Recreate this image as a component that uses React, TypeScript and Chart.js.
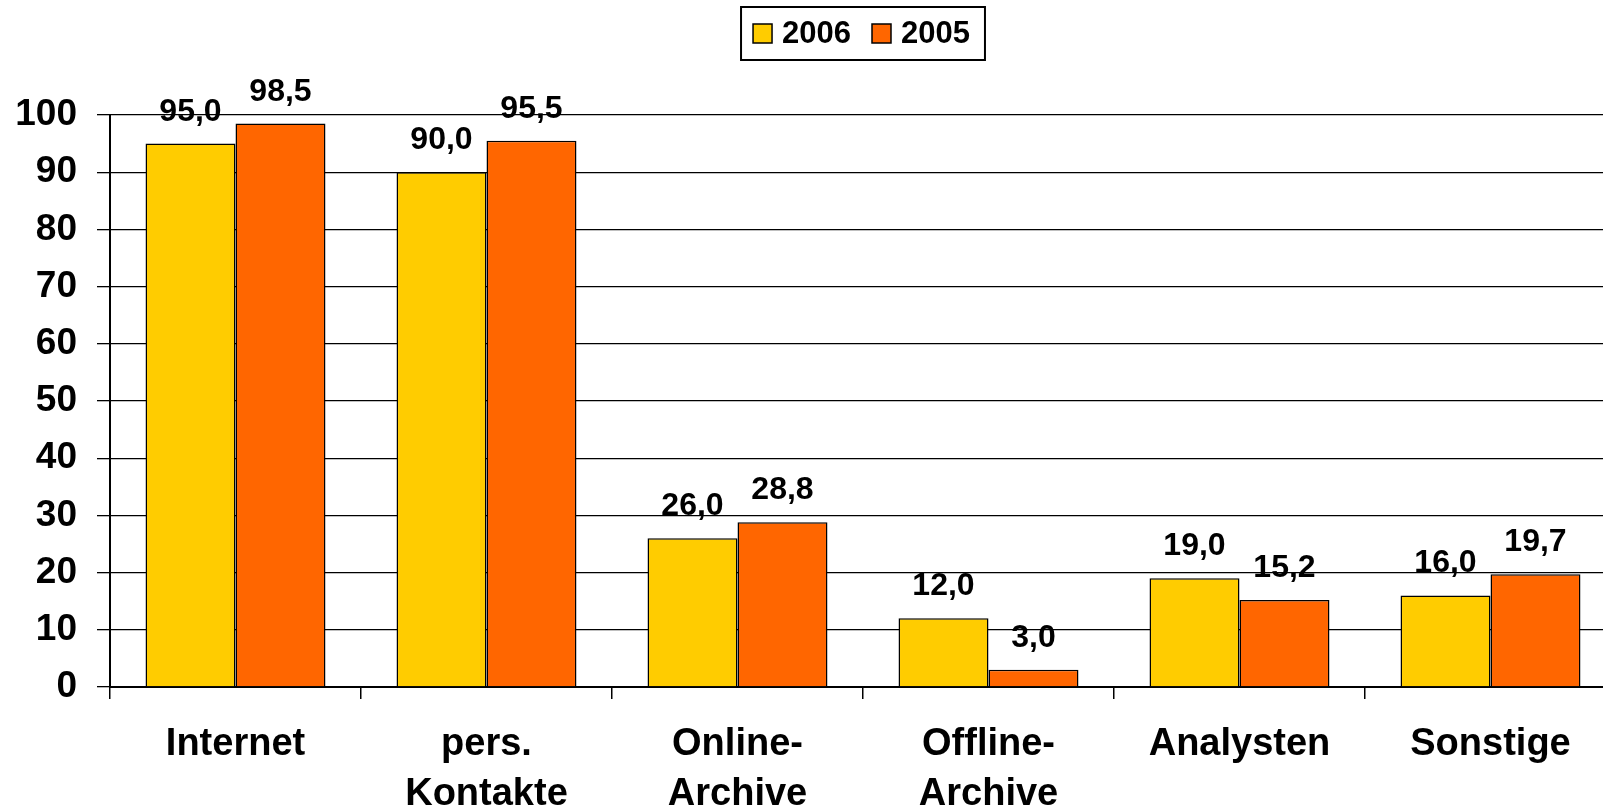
import React, { useEffect, useRef } from "react";
import { Chart, registerables } from "chart.js";

Chart.register(...registerables);

const categories: (string | string[])[] = [
  "Internet",
  ["pers.", "Kontakte"],
  ["Online-", "Archive"],
  ["Offline-", "Archive"],
  "Analysten",
  "Sonstige",
];
const series2006 = [95.0, 90.0, 26.0, 12.0, 19.0, 16.0];
const series2005 = [98.5, 95.5, 28.8, 3.0, 15.2, 19.7];
const seriesLabels = ["2006", "2005"];
const yTicksMax = 100;
const yTicksStep = 10;

const FONT = '"Liberation Sans", Arial, Helvetica, sans-serif';
const COLORS = ["#FFCC00", "#FF6600"];

const fmt = (v: number) => v.toFixed(1).replace(".", ",");

const dataLabelPlugin = {
  id: "dataLabels",
  afterDatasetsDraw(chart: any) {
    const ctx = chart.ctx;
    ctx.save();
    ctx.font = `bold 32px ${FONT}`;
    ctx.fillStyle = "#000";
    ctx.textAlign = "center";
    ctx.textBaseline = "alphabetic";
    chart.data.datasets.forEach((ds: any, i: number) => {
      const meta = chart.getDatasetMeta(i);
      meta.data.forEach((bar: any, j: number) => {
        ctx.fillText(fmt(ds.data[j]), bar.x, bar.y - 23);
      });
    });
    ctx.restore();
  },
};

const legendPlugin = {
  id: "boxLegend",
  afterDraw(chart: any) {
    const ctx = chart.ctx;
    const area = chart.chartArea;
    ctx.save();
    ctx.font = `bold 31px ${FONT}`;
    const sw = 19;
    const gapSwText = 10;
    const gapItems = 21;
    const padL = 12;
    const padR = 15;
    const items = chart.data.datasets.map((ds: any) => ({
      label: ds.label,
      color: ds.backgroundColor,
      w: sw + gapSwText + ctx.measureText(ds.label).width,
    }));
    const inner = items.reduce((a: number, it: any) => a + it.w, 0) + gapItems * (items.length - 1);
    const total = padL + inner + padR;
    const cx = (area.left + area.right) / 2;
    const left = cx - total / 2;
    const top = 7;
    const h = 53;
    const cy = top + h / 2;
    ctx.lineWidth = 2;
    ctx.strokeStyle = "#000";
    ctx.fillStyle = "#fff";
    ctx.fillRect(left, top, total, h);
    ctx.strokeRect(left, top, total, h);
    let x = left + padL;
    items.forEach((it: any) => {
      ctx.fillStyle = it.color;
      ctx.fillRect(x, cy - sw / 2, sw, sw);
      ctx.lineWidth = 1.5;
      ctx.strokeRect(x, cy - sw / 2, sw, sw);
      ctx.fillStyle = "#000";
      ctx.textAlign = "left";
      ctx.textBaseline = "middle";
      ctx.fillText(it.label, x + sw + gapSwText, cy + 1);
      x += it.w + gapItems;
    });
    ctx.restore();
  },
};

export default function App() {
  const ref = useRef<HTMLCanvasElement | null>(null);

  useEffect(() => {
    if (!ref.current) return;
    const chart = new Chart(ref.current, {
      type: "bar",
      data: {
        labels: categories,
        datasets: [
          {
            label: seriesLabels[0],
            data: series2006,
            backgroundColor: COLORS[0],
            borderColor: "#000",
            borderWidth: 1.5,
            categoryPercentage: 0.717,
            barPercentage: 1,
          },
          {
            label: seriesLabels[1],
            data: series2005,
            backgroundColor: COLORS[1],
            borderColor: "#000",
            borderWidth: 1.5,
            categoryPercentage: 0.717,
            barPercentage: 1,
          },
        ],
      },
      options: {
        responsive: false,
        animation: false,
        devicePixelRatio: 1,
        layout: { padding: { left: 0, right: 4, top: 115, bottom: 0 } },
        plugins: {
          legend: { display: false },
          tooltip: { enabled: false },
        },
        scales: {
          x: {
            type: "category",
            offset: true,
            grid: {
              offset: true,
              drawOnChartArea: false,
              drawTicks: true,
              tickLength: 12,
              color: "#000",
              lineWidth: 1.5,
            },
            border: { display: true, color: "#000", width: 2 },
            ticks: {
              color: "#000",
              padding: 21,
              maxRotation: 0,
              autoSkip: false,
              font: { family: FONT, size: 38, weight: "bold", lineHeight: 1.3 },
            },
            afterFit(scale: any) {
              scale.height = 122;
            },
          },
          y: {
            min: 0,
            max: yTicksMax,
            grid: {
              color: "#000",
              lineWidth: 1.3,
              drawTicks: true,
              tickLength: 13,
            },
            border: { display: true, color: "#000", width: 2 },
            ticks: {
              stepSize: yTicksStep,
              color: "#000",
              padding: 20,
              font: { family: FONT, size: 37, weight: "bold" },
            },
            afterFit(scale: any) {
              scale.width = 110;
            },
          },
        },
      },
      plugins: [dataLabelPlugin, legendPlugin],
    } as any);
    return () => chart.destroy();
  }, []);

  return (
    <div
      style={{
        position: "fixed",
        left: 0,
        top: 0,
        width: 1603,
        height: 809,
        overflow: "hidden",
        background: "#fff",
      }}
    >
      <canvas ref={ref} width={1620} height={809} style={{ display: "block" }} />
    </div>
  );
}
